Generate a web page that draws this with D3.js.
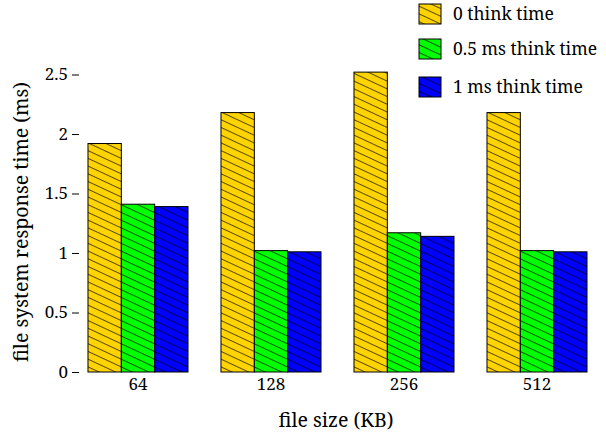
<!DOCTYPE html>
<html>
<head>
<meta charset="utf-8">
<script src="https://cdn.jsdelivr.net/npm/d3@7"></script>
<style>
  body { margin: 0; background: #fff; }
</style>
</head>
<body>
<div id="chart"></div>
<script>
// data
const fileSizes = ["64", "128", "256", "512"];
const seriesNames = ["0 think time", "0.5 ms think time", "1 ms think time"];
const thinkZero = [1.92, 2.18, 2.52, 2.18];
const thinkHalf = [1.41, 1.02, 1.17, 1.02];
const thinkOne = [1.39, 1.01, 1.14, 1.01];
const yTicks = [0, 0.5, 1, 1.5, 2, 2.5];

const colors = ["#ffd400", "#00ff00", "#0000ff"];
const serif = "'Noto Serif'";
const width = 606, height = 435;

const svg = d3.select("#chart").append("svg")
  .attr("width", width)
  .attr("height", height)
  .style("font-family", serif);

// hatch patterns, one per colour
const defs = svg.append("defs");
colors.forEach((c, i) => {
  const p = defs.append("pattern")
    .attr("id", "hatch" + i)
    .attr("patternUnits", "userSpaceOnUse")
    .attr("width", 7)
    .attr("height", 7)
    .attr("patternTransform", "rotate(25)");
  p.append("rect").attr("width", 7).attr("height", 7).attr("fill", c);
  p.append("line")
    .attr("x1", 0).attr("y1", 3.5).attr("x2", 7).attr("y2", 3.5)
    .attr("stroke", "#000").attr("stroke-width", 0.8).attr("stroke-opacity", 0.8);
});

const rows = fileSizes.map((s, i) => ({
  size: s,
  vals: [thinkZero[i], thinkHalf[i], thinkOne[i]]
}));

const x0 = d3.scaleBand()
  .domain(fileSizes)
  .range([71.5, 603.5])
  .paddingInner(0.248)
  .paddingOuter(0.124);

const x1 = d3.scaleBand()
  .domain(d3.range(seriesNames.length))
  .range([0, x0.bandwidth()]);

const y = d3.scaleLinear()
  .domain([0, 2.5])
  .range([372, 74.5]);

// y axis, no domain line
const yAxis = svg.append("g")
  .attr("transform", "translate(79,0)")
  .call(d3.axisLeft(y).tickValues(yTicks).tickFormat(d3.format("")).tickSize(7).tickPadding(4))
  .attr("font-family", "Noto Serif")
  .attr("font-size", 17);
yAxis.select(".domain").remove();
yAxis.selectAll("line").attr("stroke", "#000");
yAxis.selectAll("text").attr("fill", "#000");

// x axis labels only
const xAxis = svg.append("g")
  .attr("transform", "translate(0,372)")
  .call(d3.axisBottom(x0).tickSize(0).tickPadding(6))
  .attr("font-family", "Noto Serif")
  .attr("font-size", 17);
xAxis.select(".domain").remove();
xAxis.selectAll("text").attr("fill", "#000");

// bars
const groups = svg.selectAll(".grp")
  .data(rows)
  .enter()
  .append("g")
  .attr("transform", d => "translate(" + x0(d.size) + ",0)");

groups.selectAll("rect")
  .data(d => d.vals)
  .enter()
  .append("rect")
  .attr("x", (d, i) => x1(i))
  .attr("y", d => y(d))
  .attr("width", x1.bandwidth())
  .attr("height", d => y(0) - y(d))
  .attr("fill", (d, i) => "url(#hatch" + i + ")")
  .attr("stroke", "#000")
  .attr("stroke-width", 1);

// axis titles
svg.append("text")
  .attr("x", 336)
  .attr("y", 427)
  .attr("text-anchor", "middle")
  .style("font-family", serif)
  .style("font-size", "19.5px")
  .text("file size (KB)");

svg.append("text")
  .attr("transform", "translate(28,222) rotate(-90)")
  .attr("text-anchor", "middle")
  .style("font-family", serif)
  .style("font-size", "19.5px")
  .text("file system response time (ms)");

// legend
const legend = svg.append("g");
const legendY = [4, 39, 77];
seriesNames.forEach((name, i) => {
  legend.append("rect")
    .attr("x", 419).attr("y", legendY[i])
    .attr("width", 22).attr("height", 20)
    .attr("fill", "url(#hatch" + i + ")")
    .attr("stroke", "#000");
  legend.append("text")
    .attr("x", 453).attr("y", legendY[i] + 16)
    .style("font-family", serif)
    .style("font-size", "17.5px")
    .text(name);
});
</script>
</body>
</html>
